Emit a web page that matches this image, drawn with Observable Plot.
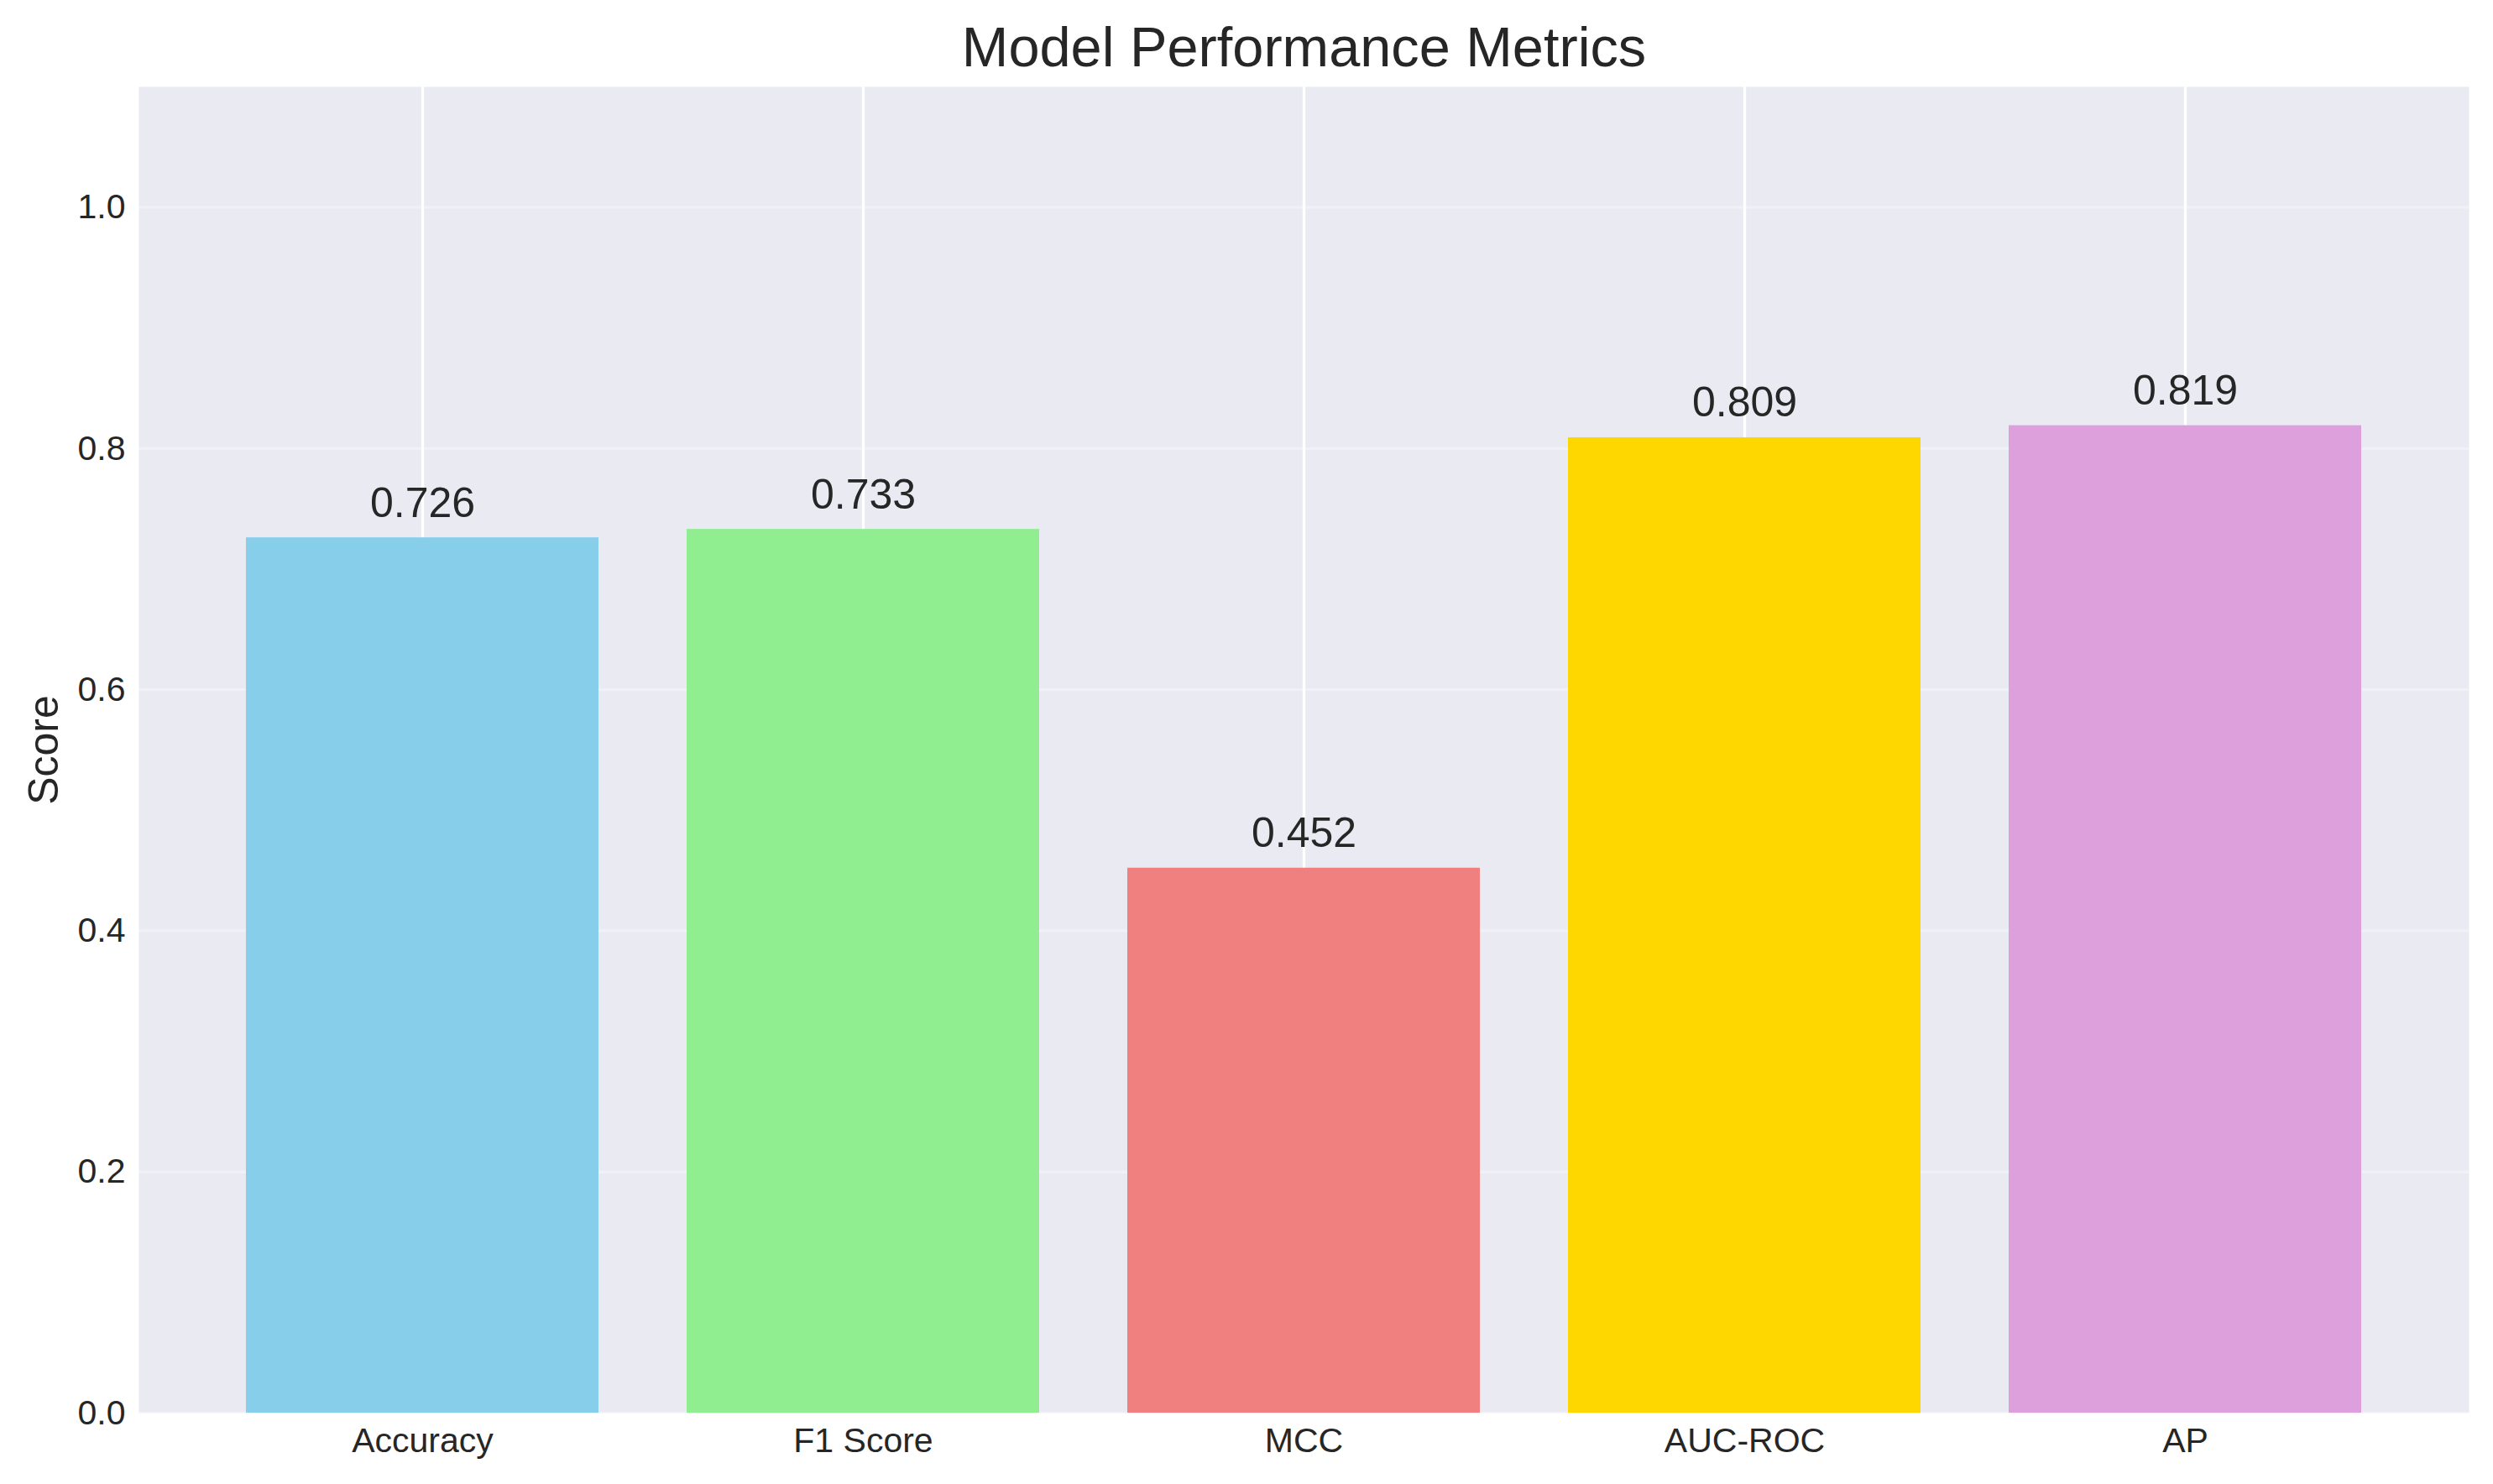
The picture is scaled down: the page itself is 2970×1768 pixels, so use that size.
<!DOCTYPE html>
<html>
<head>
<meta charset="utf-8">
<script src="https://cdn.jsdelivr.net/npm/d3@7"></script>
<script src="https://cdn.jsdelivr.net/npm/@observablehq/plot@0.6"></script>
<style>
  html, body { margin: 0; padding: 0; background: #ffffff; overflow: hidden; }
  #chart svg { display: block; }
</style>
</head>
<body>
<div id="chart"></div>
<script>
// Data
const metrics = ["Accuracy", "F1 Score", "MCC", "AUC-ROC", "AP"];
const scores = [0.726, 0.733, 0.452, 0.809, 0.819];
const barColors = ["#87CEEB", "#90EE90", "#F08080", "#FFD700", "#DDA0DD"];
const yTicks = [0.0, 0.2, 0.4, 0.6, 0.8, 1.0];
const titleText = "Model Performance Metrics";
const yLabelText = "Score";

const data = metrics.map((m, i) => ({metric: m, score: scores[i], color: barColors[i]}));

const chart = Plot.plot({
  width: 2970,
  height: 1768,
  marginLeft: 165,
  marginRight: 29,
  marginTop: 103,
  marginBottom: 85,
  style: {fontFamily: "'Liberation Sans', Arial, sans-serif", color: "#262626", background: "#ffffff"},
  x: {type: "band", domain: metrics, paddingInner: 0.2, paddingOuter: 0.24, label: null},
  y: {domain: [0, 1.1], label: null},
  marks: [
    Plot.frame({fill: "#EAEAF2", stroke: "none"}),
    Plot.ruleY(yTicks, {stroke: "#ffffff", strokeOpacity: 0.3, strokeWidth: 3.3}),
    Plot.ruleX(metrics, {x: d => d, stroke: "#ffffff", strokeWidth: 3.3}),
    Plot.barY(data, {x: "metric", y: "score", fill: "color"}),
    Plot.text(data, {x: "metric", y: "score", text: d => d.score.toFixed(3), dy: -25, lineAnchor: "bottom", fontSize: 50, fill: "#262626"}),
    Plot.axisX({tickSize: 0, tickPadding: 17, fontSize: 41, label: null}),
    Plot.axisY({ticks: yTicks, tickFormat: d3.format(".1f"), tickSize: 0, tickPadding: 16, fontSize: 41, label: null}),
    Plot.text([titleText], {frameAnchor: "top", dy: -25, lineAnchor: "bottom", textAnchor: "middle", fontSize: 66.7, fill: "#262626"}),
    Plot.text([yLabelText], {frameAnchor: "left", dx: -97, rotate: -90, lineAnchor: "bottom", textAnchor: "middle", fontSize: 50, fill: "#262626"})
  ]
});

document.getElementById("chart").appendChild(chart);
</script>
</body>
</html>
